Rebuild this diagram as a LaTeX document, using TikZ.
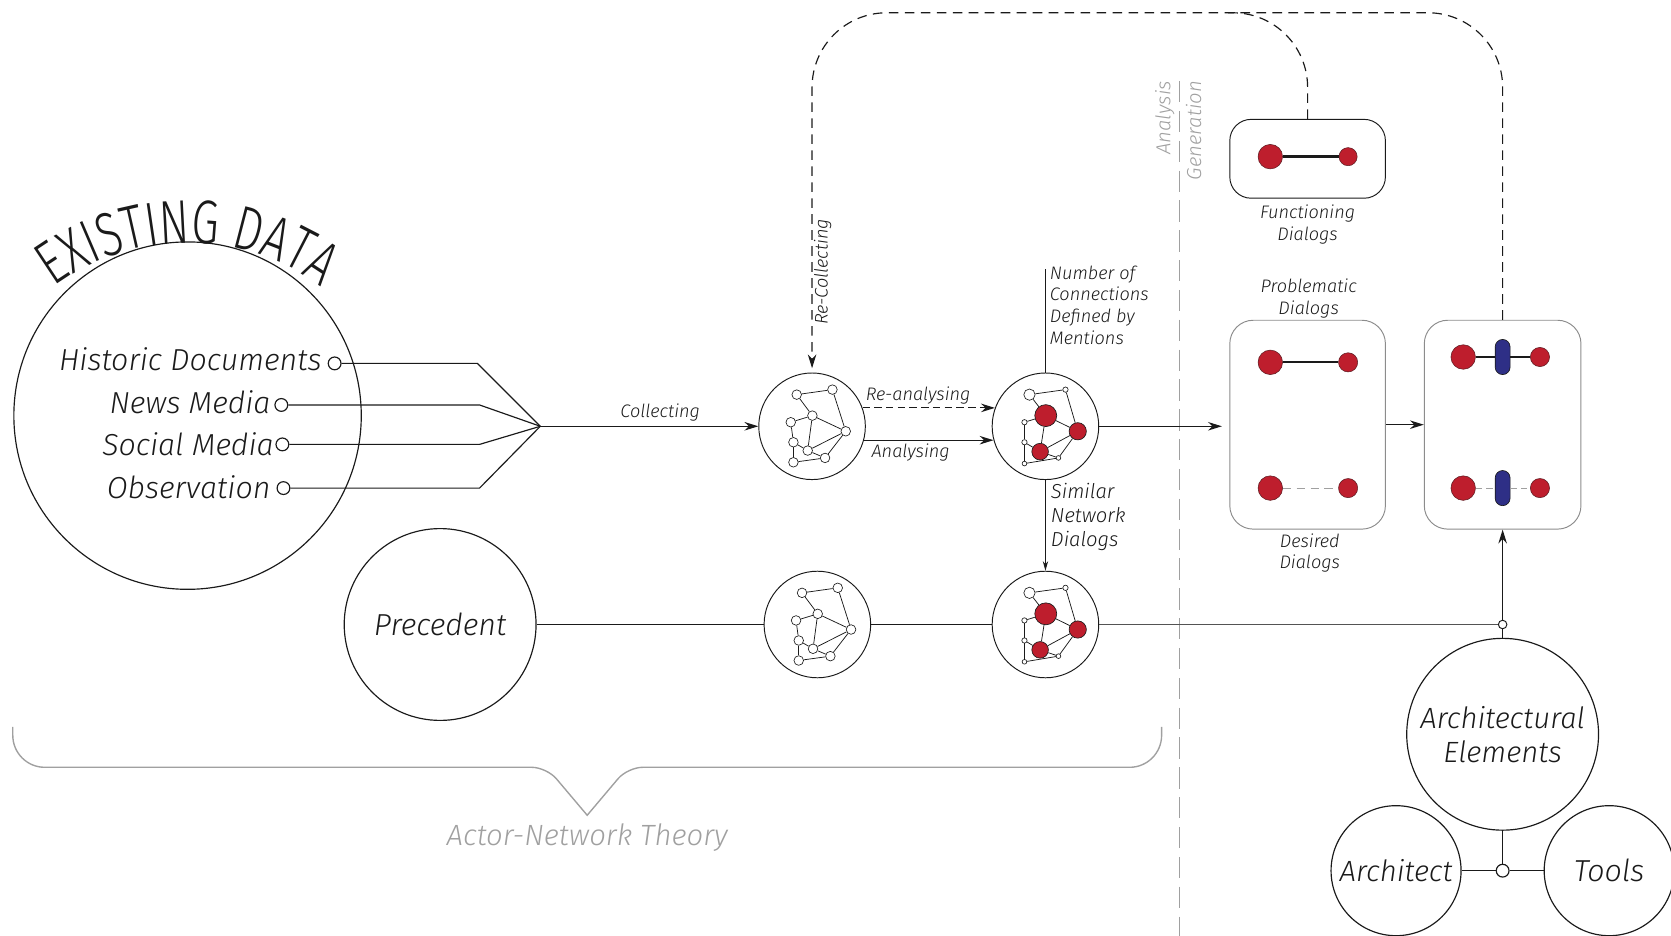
\documentclass[tikz,border=0pt]{standalone}
\usepackage{fontspec}
\IfFontExistsTF{Fira Sans Light Italic}{%
  \setmainfont{Fira Sans}[UprightFont={* Light},ItalicFont={* Light Italic},
    BoldFont={* Light},BoldItalicFont={* Light Italic}]%
  \newfontfamily\titlefont{Fira Sans Light}[FakeStretch=0.72]%
}{%
  \IfFontExistsTF{FiraSans-LightItalic}{%
    \setmainfont{FiraSans-Light}[ItalicFont=FiraSans-LightItalic]%
    \newfontfamily\titlefont{FiraSans-Light}[FakeStretch=0.72]%
  }{%
    \setmainfont{Fira Sans}%
    \newfontfamily\titlefont{Fira Sans}[FakeStretch=0.72]%
  }%
}
\usetikzlibrary{arrows.meta,decorations.text,calc}

\definecolor{ink}{HTML}{1A1A1A}
\definecolor{soft}{HTML}{A0A0A0}
\definecolor{frame}{HTML}{8C8C8C}
\definecolor{dotred}{HTML}{BE1E2D}
\definecolor{dotblue}{HTML}{2E2F86}

% small network diagram: #1 name prefix, #2 centre node, #3 list macro name/dx/dy/size/fill
\newcommand\netgraph[3]{%
  \foreach \k/\dx/\dy/\d/\f in #3
    \node[circle, draw=ink, fill=\f, line width=0.6pt, inner sep=0pt,
          minimum size=\d pt] (#1\k) at ($(#2)+(\dx,\dy)$) {};
  \foreach \u/\v in {a/b,a/c,b/e,c/d,c/e,c/g,d/f,f/g,f/i,g/e,g/h,h/e,i/h}
    \draw[ink, line width=0.7pt] (#1\u) -- (#1\v);
}
\newcommand\plainlist{a/-14.4/29.7/9/white,b/19.1/34.4/9/white,%
c/0.3/10/9/white,d/-20/3.8/9/white,e/31.6/-4.7/9/white,%
f/-17.5/-15/9/white,g/-4.1/-22.8/9/white,h/12.2/-29.7/9/white,%
i/-17.5/-33.8/9/white}
\newcommand\redlist{a/-15/29.7/10.6/white,b/18.8/34.4/5/white,%
c/0.3/10/20.6/dotred,d/-19.7/3.8/5/white,e/30.3/-4.7/16.2/dotred,%
f/-19.7/-15/5/white,g/-5/-23.8/15.6/dotred,h/12.2/-29.7/4.4/white,%
i/-19.7/-35/4.4/white}

\begin{document}
\begin{tikzpicture}[x=1pt,y=1pt,
  lab/.style={font=\itshape\fontsize{28.5}{32}\selectfont, text=ink},
  sml/.style={font=\itshape\fontsize{17}{20.5}\selectfont, text=ink, inner sep=0pt},
  ring/.style={circle, draw=ink, line width=1.1pt, inner sep=0pt},
  net/.style={circle, draw=ink, line width=0.9pt, minimum size=100pt, inner sep=0pt},
  port/.style={circle, draw=ink, fill=white, line width=1.1pt, minimum size=12pt, inner sep=0pt},
  wire/.style={draw=ink, line width=1.1pt},
  thinwire/.style={draw=ink, line width=0.8pt},
  flow/.style={wire, -{Stealth[length=13pt,width=8pt]}},
  loop/.style={draw=ink, line width=1.1pt, dash pattern=on 9pt off 6pt},
  panel/.style={draw=frame, line width=0.9pt, rounded corners=22pt},
  rdot/.style={circle, fill=dotred, draw=ink!60!dotred, line width=0.5pt, inner sep=0pt},
  capsule/.style={rectangle, rounded corners=7pt, fill=dotblue, draw=ink, line width=0.6pt,
                  minimum width=14pt, minimum height=33pt, inner sep=0pt},
  brace/.style={draw=soft, line width=1.3pt}
]
\useasboundingbox (0,0) rectangle (1568,-878);

% ---------- existing data ----------
\node[ring, minimum size=326pt] (ed) at (176,-390) {};
\path[decorate, decoration={text along path, text align=center,
   text={|\titlefont\fontsize{58}{58}\selectfont\color{ink}|EXISTING DATA}}]
   ($(176,-440)+(138:212)$) arc[start angle=138, end angle=42, radius=212];

\node[port] (p1) at (314,-341) {};
\node[lab, anchor=base east, inner sep=0pt] (t1) at (302,-348) {Historic Documents};
\node[port] (p2) at (264,-380) {};
\node[lab, anchor=base east, inner sep=0pt] (t2) at (254,-388) {News Media};
\node[port] (p3) at (265,-417) {};
\node[lab, anchor=base east, inner sep=0pt] (t3) at (257,-427) {Social Media};
\node[port] (p4) at (266,-458) {};
\node[lab, anchor=base east, inner sep=0pt] (t4) at (254,-468) {Observation};

\coordinate (hub) at (507,-400);
\draw[wire] (p1) -- (448,-341) -- (hub);
\draw[wire] (p2) -- (450,-380) -- (hub);
\draw[wire] (p3) -- (450,-417) -- (hub);
\draw[wire] (p4) -- (450,-458) -- (hub);

% ---------- networks ----------
\node[net] (n1) at (762,-400) {};
\node[net] (n2) at (981,-400) {};
\node[net] (n3) at (767,-586) {};
\node[net] (n4) at (981,-586) {};
\netgraph{pa}{n1}{\plainlist}
\netgraph{pb}{n3}{\plainlist}
\netgraph{ra}{n2}{\redlist}
\netgraph{rb}{n4}{\redlist}

\draw[flow] (hub) -- (n1) node[sml, pos=0.55, above=4pt] {Collecting};
\draw[flow, dash pattern=on 7pt off 4pt] (n1.20) -- (n2.160)
   node[sml, pos=0.42, above=3pt] {Re-analysing};
\draw[flow] (n1.-15) -- (n2.195) node[sml, pos=0.36, below=3pt] {Analysing};

\coordinate (nc) at (981,-252);
\draw[thinwire] (n2.north) -- (nc);
\node[sml, anchor=north west, align=left] (nct) at (985,-249)
   {Number of\\Connections\\Defined by\\Mentions};
\draw[thinwire, -{Stealth[length=9pt,width=5pt]}] (n2.south) -- (n4.north);
\node[sml, font=\itshape\fontsize{19}{22.5}\selectfont, anchor=north west, align=left]
   (snd) at (986,-453) {Similar\\Network\\Dialogs};

% ---------- precedent row ----------
\node[ring, lab, minimum size=180pt] (pr) at (413,-586) {Precedent};
\draw[wire] (pr) -- (n3);
\draw[wire] (n3) -- (n4);

% ---------- analysis / generation divider ----------
\draw[soft, line width=1pt, dash pattern=on 20pt off 8pt] (1107,-76) -- (1107,-878);
\node[sml, font=\itshape\fontsize{19}{22}\selectfont, text=soft, rotate=90, anchor=east]
   (an) at (1093,-76) {Analysis};
\node[sml, font=\itshape\fontsize{19}{22}\selectfont, text=soft, rotate=90, anchor=east]
   (ge) at (1120,-76) {Generation};

% ---------- dialog panels ----------
\node[draw=ink, line width=0.9pt, rounded corners=20pt, minimum width=146pt,
      minimum height=74pt] (fb) at (1227,-149) {};
\node[rdot, minimum size=23pt] (f1) at (1192,-147) {};
\node[rdot, minimum size=17pt] (f2) at (1265,-147) {};
\draw[ink, line width=3.4pt] (f1) -- (f2);
\node[sml, align=center] (fbl) at (1227,-211) {Functioning\\Dialogs};

\node[panel, minimum width=146pt, minimum height=196pt] (pb) at (1227,-398.5) {};
\node[sml, align=center] (pbl) at (1228,-280) {Problematic\\Dialogs};
\node[sml, align=center] (pbd) at (1229,-519) {Desired\\Dialogs};
\node[rdot, minimum size=23pt] (q1) at (1192,-340) {};
\node[rdot, minimum size=18pt] (q2) at (1265,-340) {};
\draw[ink, line width=1.6pt] (q1) -- (q2);
\node[rdot, minimum size=23pt] (q3) at (1192,-458) {};
\node[rdot, minimum size=18pt] (q4) at (1265,-458) {};
\draw[soft, line width=0.9pt, dash pattern=on 8pt off 5pt] (q3) -- (q4);

\node[panel, minimum width=147pt, minimum height=196pt] (rbx) at (1410,-398.5) {};
\node[rdot, minimum size=23pt] (s1) at (1373,-335) {};
\node[capsule] (c1) at (1410,-335) {};
\node[rdot, minimum size=18pt] (s2) at (1445,-335) {};
\draw[ink, line width=1.8pt] (s1) -- (c1);
\draw[ink, line width=1.8pt] (c1) -- (s2);
\node[rdot, minimum size=23pt] (s3) at (1373,-458) {};
\node[capsule] (c2) at (1410,-458) {};
\node[rdot, minimum size=18pt] (s4) at (1445,-458) {};
\draw[soft, line width=0.9pt, dash pattern=on 6pt off 4pt] (s3) -- (c2);
\draw[soft, line width=0.9pt, dash pattern=on 6pt off 4pt] (c2) -- (s4);

\draw[flow, shorten >=7pt] (n2.east) -- (n2.east -| pb.west);
\draw[flow] (pb.east) -- (rbx.west);

% ---------- feedback loops ----------
\draw[loop, rounded corners=70pt, -{Stealth[length=13pt,width=8pt]}, shorten >=4pt]
   (rbx.north) -- (1410,-12) -- (762,-12) -- (n1.north);
\draw[loop, rounded corners=70pt] (fb.north) -- (1227,-12) -- (1152,-12);
\node[sml, rotate=90] (rc) at (772,-255) {Re-Collecting};

% ---------- architectural elements ----------
\node[circle, draw=ink, fill=white, line width=0.9pt, minimum size=8pt, inner sep=0pt]
   (jn) at (1410,-586) {};
\draw[ink!75, line width=0.9pt] (n4) -- (jn);
\draw[flow] (jn) -- (rbx.south);
\node[ring, lab, font=\itshape\fontsize{27.5}{32}\selectfont, align=center,
      minimum size=180pt] (ae) at (1410,-689) {Architectural\\Elements};
\draw[wire] (jn) -- (ae);
\node[ring, lab, font=\itshape\fontsize{27.5}{32}\selectfont, minimum size=122pt]
   (ar) at (1310,-817) {Architect};
\node[ring, lab, minimum size=122pt] (tl) at (1510,-817) {Tools};
\node[circle, draw=ink, fill=white, line width=1.1pt, minimum size=12pt, inner sep=0pt]
   (jn2) at (1410,-817) {};
\draw[wire] (ae) -- (jn2);
\draw[wire] (ar) -- (jn2);
\draw[wire] (jn2) -- (tl);

% ---------- actor-network theory brace ----------
\draw[brace] (12,-682) [rounded corners=30pt] -- (12,-720) [rounded corners=14pt]
   -- (513,-720) [sharp corners] -- (551,-765) [rounded corners=14pt] -- (589,-720)
   [rounded corners=30pt] -- (1090,-720) -- (1090,-682);
\node[lab, font=\itshape\fontsize{27.5}{32}\selectfont, text=soft] (ant) at (551,-786)
   {Actor-Network Theory};
\end{tikzpicture}
\end{document}
